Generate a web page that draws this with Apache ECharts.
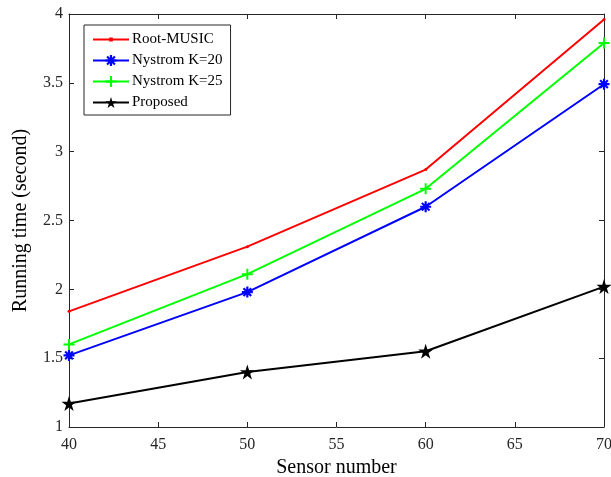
<!DOCTYPE html>
<html>
<head>
<meta charset="utf-8">
<script src="https://cdn.jsdelivr.net/npm/echarts@6/dist/echarts.min.js"></script>
<style>
  html, body { margin: 0; padding: 0; background: #fff; }
  #chart { width: 611px; height: 477px; }
</style>
</head>
<body>
<div id="chart"></div>
<script>
// Sensor counts on the x axis
const sensors = [40, 50, 60, 70];

// Running time (seconds) per method
const rootMusic = [1.84, 2.31, 2.87, 3.96];
const nystromK20 = [1.52, 1.98, 2.60, 3.49];
const nystromK25 = [1.60, 2.11, 2.73, 3.79];
const proposed = [1.17, 1.40, 1.55, 2.02];

const seriesNames = ['Root-MUSIC', 'Nystrom K=20', 'Nystrom K=25', 'Proposed'];

// Marker shapes
const starPath = 'path://M50,0 L61.2,34.5 L97.6,34.5 L68.2,55.9 L79.4,90.5 L50,69.1 L20.6,90.5 L31.8,55.9 L2.4,34.5 L38.8,34.5 Z';
const plusPath = 'path://M41,0 L59,0 L59,41 L100,41 L100,59 L59,59 L59,100 L41,100 L41,59 L0,59 L0,41 L41,41 Z';
const asteriskPath = 'path://M0,40 L100,40 L100,60 L0,60 Z M40,0 L60,0 L60,100 L40,100 Z ' +
  'M21.7,8.3 L91.7,78.3 L78.3,91.7 L8.3,21.7 Z M78.3,8.3 L91.7,21.7 L21.7,91.7 L8.3,78.3 Z';
// Legend glyph for the point-marker series: a line with a small dot in the middle
const lineDotPath = 'path://M0,2.7 L100,2.7 L100,8.3 L0,8.3 Z M45,0 L55,0 L55,11 L45,11 Z';

const pairs = arr => sensors.map((s, i) => [s, arr[i]]);

const fontFamily = '"Liberation Serif", "DejaVu Serif", serif';
const axisColor = '#262626';

const chart = echarts.init(document.getElementById('chart'), null, { renderer: 'canvas' });

const tickStyle = { show: true, inside: true, length: 5, lineStyle: { color: axisColor, width: 1 } };

chart.setOption({
  animation: false,
  backgroundColor: '#fff',
  textStyle: { fontFamily },
  grid: { left: 69, right: 7, top: 14, bottom: 50, containLabel: false, outerBoundsMode: 'none' },
  legend: {
    left: 84,
    top: 25,
    orient: 'vertical',
    data: [
      { name: seriesNames[0], icon: lineDotPath },
      { name: seriesNames[1] },
      { name: seriesNames[2] },
      { name: seriesNames[3] }
    ],
    itemWidth: 36,
    itemHeight: 14,
    itemGap: 6,
    padding: [7, 8, 5, 8],
    symbolKeepAspect: true,
    borderColor: axisColor,
    borderWidth: 1,
    backgroundColor: '#fff',
    textStyle: { fontFamily, fontSize: 15, lineHeight: 14, color: '#000', padding: [0, 0, 0, -2] }
  },
  xAxis: [
    {
      type: 'value', min: 40, max: 70, interval: 5,
      name: 'Sensor number', nameLocation: 'middle', nameGap: 27,
      nameTextStyle: { fontFamily, fontSize: 20, color: '#000' },
      axisLine: { show: true, lineStyle: { color: axisColor, width: 1 } },
      axisTick: tickStyle,
      axisLabel: { fontFamily, fontSize: 16, color: axisColor, margin: 10 },
      splitLine: { show: false }
    },
    {
      type: 'value', position: 'top', min: 40, max: 70, interval: 5,
      axisLine: { show: true, onZero: false, lineStyle: { color: axisColor, width: 1 } },
      axisTick: tickStyle,
      axisLabel: { show: false },
      splitLine: { show: false }
    }
  ],
  yAxis: [
    {
      type: 'value', min: 1, max: 4, interval: 0.5,
      name: 'Running time (second)', nameLocation: 'middle', nameGap: 38,
      nameTextStyle: { fontFamily, fontSize: 20, color: '#000' },
      axisLine: { show: true, lineStyle: { color: axisColor, width: 1 } },
      axisTick: tickStyle,
      axisLabel: { fontFamily, fontSize: 16, color: axisColor, margin: 6 },
      splitLine: { show: false }
    },
    {
      type: 'value', position: 'right', min: 1, max: 4, interval: 0.5,
      axisLine: { show: true, onZero: false, lineStyle: { color: axisColor, width: 1 } },
      axisTick: tickStyle,
      axisLabel: { show: false },
      splitLine: { show: false }
    }
  ],
  series: [
    {
      name: seriesNames[0], type: 'line', data: pairs(rootMusic),
      xAxisIndex: 0, yAxisIndex: 0,
      symbol: 'circle', symbolSize: 3,
      lineStyle: { color: '#ff0000', width: 2 },
      itemStyle: { color: '#ff0000' },
      z: 4
    },
    {
      name: seriesNames[1], type: 'line', data: pairs(nystromK20),
      xAxisIndex: 0, yAxisIndex: 0,
      symbol: asteriskPath, symbolSize: 11,
      lineStyle: { color: '#0000ff', width: 2 },
      itemStyle: { color: '#0000ff' },
      z: 3
    },
    {
      name: seriesNames[2], type: 'line', data: pairs(nystromK25),
      xAxisIndex: 0, yAxisIndex: 0,
      symbol: plusPath, symbolSize: 11,
      lineStyle: { color: '#00ff00', width: 2 },
      itemStyle: { color: '#00ff00' },
      z: 3
    },
    {
      name: seriesNames[3], type: 'line', data: pairs(proposed),
      xAxisIndex: 0, yAxisIndex: 0,
      symbol: starPath, symbolSize: 15,
      lineStyle: { color: '#000000', width: 2 },
      itemStyle: { color: '#000000' },
      z: 3
    }
  ]
});
</script>
</body>
</html>
